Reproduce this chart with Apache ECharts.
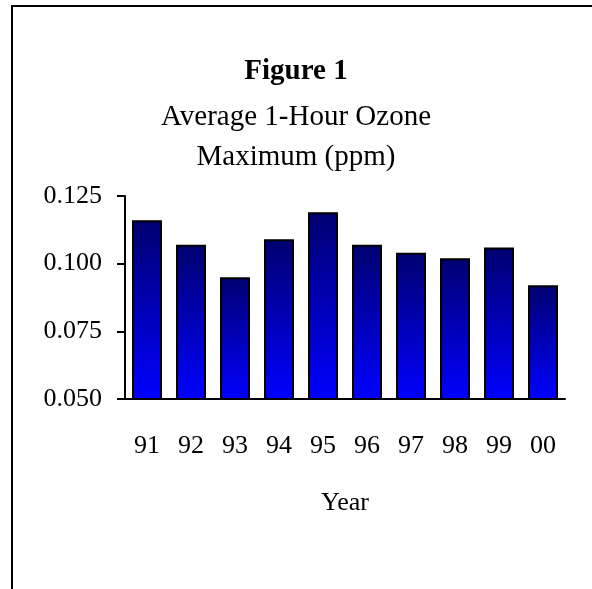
<!DOCTYPE html>
<html>
<head>
<meta charset="utf-8">
<script src="https://cdn.jsdelivr.net/npm/echarts@6/dist/echarts.min.js"></script>
<style>
    html, body { margin: 0; padding: 0; background: #fff; }
    #myChart { width: 592px; height: 589px; }
    #frame {
        position: absolute; left: 11px; top: 5px; right: 0; bottom: 0;
        border-top: 2px solid #000; border-left: 2px solid #000;
        pointer-events: none;
    }
</style>
</head>
<body>
<div id="myChart"></div>
<div id="frame"></div>
<script>
    // 数据
    let years = ['91', '92', '93', '94', '95', '96', '97', '98', '99', '00']
    let ozone = [0.116, 0.107, 0.095, 0.109, 0.119, 0.107, 0.104, 0.102, 0.106, 0.092]
    let yMin = 0.050, yMax = 0.125, yStep = 0.025

    let font = '"Liberation Serif", "Times New Roman", serif'
    let myChart = echarts.init(document.getElementById('myChart'))

    let option = {
        title: [
            {
                text: 'Figure 1',
                left: 'center',
                top: 52,
                textStyle: { fontFamily: font, fontSize: 29, fontWeight: 'bold', color: '#000' }
            },
            {
                text: 'Average 1-Hour Ozone\nMaximum (ppm)',
                left: 'center',
                top: 92,
                textStyle: { fontFamily: font, fontSize: 29, fontWeight: 'normal', color: '#000', lineHeight: 40 }
            }
        ],
        grid: { left: 125, right: 27, top: 196, bottom: 190 },
        xAxis: {
            type: 'category',
            data: years,
            name: 'Year',
            nameLocation: 'middle',
            nameGap: 91,
            nameTextStyle: { fontFamily: font, fontSize: 26, color: '#000' },
            axisLine: { lineStyle: { color: '#000', width: 2 } },
            axisTick: { length: 8, lineStyle: { color: '#000', width: 2 } },
            axisLabel: { fontFamily: font, fontSize: 26, color: '#000', margin: 34 }
        },
        yAxis: {
            type: 'value',
            min: yMin,
            max: yMax,
            interval: yStep,
            splitLine: { show: false },
            axisLine: { show: true, lineStyle: { color: '#000', width: 2 } },
            axisTick: { show: true, length: 8, lineStyle: { color: '#000', width: 2 } },
            axisLabel: {
                fontFamily: font, fontSize: 26, color: '#000', margin: 23,
                formatter: v => v.toFixed(3)
            }
        },
        series: [
            {
                type: 'bar',
                data: ozone,
                barWidth: 30,
                itemStyle: {
                    borderColor: '#000',
                    borderWidth: 2,
                    color: new echarts.graphic.LinearGradient(0, 0, 0, 1, [
                        { offset: 0, color: '#000070' },
                        { offset: 1, color: '#0000ff' }
                    ])
                }
            }
        ]
    }
    myChart.setOption(option)
</script>
</body>
</html>
